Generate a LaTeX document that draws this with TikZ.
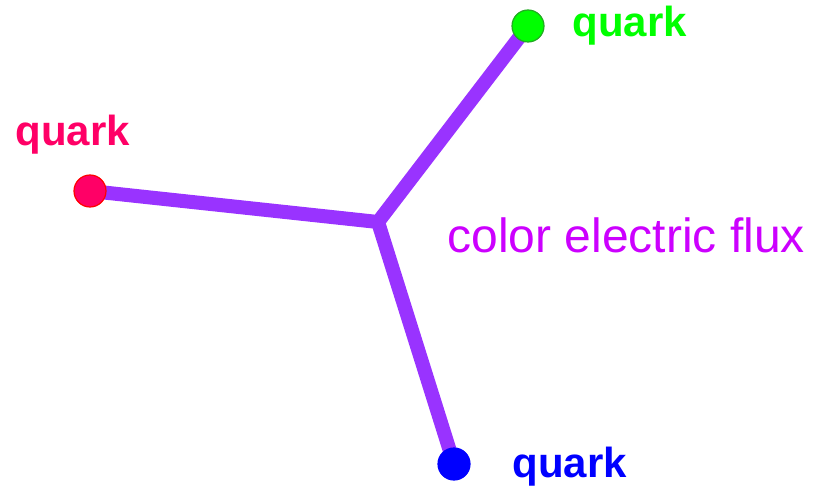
\documentclass[tikz,border=0pt]{standalone}
\usepackage{fontspec}
\setmainfont{Liberation Sans}
\usetikzlibrary{backgrounds}

\definecolor{fluxline}{HTML}{9933FF}
\definecolor{fluxtext}{HTML}{CC00FF}
\definecolor{qred}{HTML}{FF0066}
\definecolor{qgreen}{HTML}{00FF00}
\definecolor{qgreenrim}{HTML}{22AA22}
\definecolor{qblue}{HTML}{0000FF}

\begin{document}
\begin{tikzpicture}[
  x=0.5pt, y=-0.5pt,
  quarkdot/.style={circle, minimum size=16pt, inner sep=0pt, line width=0.6pt},
  flux/.style={line width=7pt, fluxline, line join=round},
  qlabel/.style={anchor=base west, inner sep=0pt, font=\fontsize{21pt}{24pt}\selectfont\bfseries}
]
  \useasboundingbox (0,0) rectangle (817,492);
  % the three quarks
  \node[quarkdot, fill=qred, draw=red] (qr) at (90,191) {};
  \node[quarkdot, fill=qgreen, draw=qgreenrim] (qg) at (528,26) {};
  \node[quarkdot, fill=qblue, draw=qblue] (qb) at (454,464) {};
  \coordinate (junction) at (378,222);
  % flux tube, behind the dots
  \begin{pgfonlayer}{background}
    \draw[flux] (qr.center) -- (junction) -- (qg.center);
    \draw[flux] (junction) -- (qb.center);
  \end{pgfonlayer}
  % labels
  \node[qlabel, text=qred] (lr) at (15,145) {quark};
  \node[qlabel, text=qgreen] (lg) at (572,37) {quark};
  \node[qlabel, text=qblue] (lb) at (512,477) {quark};
  \node[anchor=base west, inner sep=0pt, text=fluxtext, font=\fontsize{24pt}{28pt}\selectfont] (fluxlabel) at (447,252) {color electric flux};
\end{tikzpicture}
\end{document}
